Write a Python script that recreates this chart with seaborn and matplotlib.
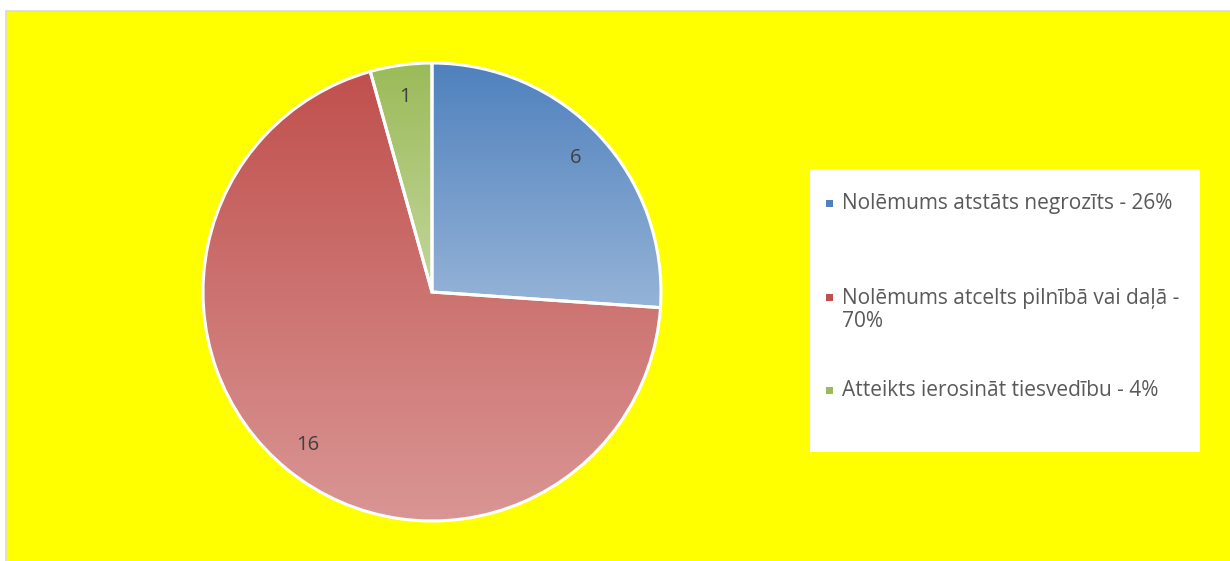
import numpy as np
import seaborn as sns
import matplotlib.pyplot as plt
from matplotlib.patches import Rectangle
from matplotlib.colors import to_rgb

# data
categories = [
    "Nolēmums atstāts negrozīts - 26%",
    "Nolēmums atcelts pilnībā vai daļā -\n70%",
    "Atteikts ierosināt tiesvedību - 4%",
]
counts = [6, 16, 1]
colors = ["#4F81BD", "#C0504D", "#9BBB59"]

sns.set_theme(style="white")
plt.rcParams["font.family"] = ["Open Sans", "DejaVu Sans"]

W, H = 1230, 561
fig = plt.figure(figsize=(W / 100, H / 100), dpi=100)
fig.patch.set_facecolor("white")

# yellow chart area with thin grey border on left/top
bg = Rectangle((6 / W, -0.01), 1.0, 1 - 11 / H + 0.01, transform=fig.transFigure,
               facecolor="#FFFF00", edgecolor="#D9D9D9", linewidth=1.2, zorder=-5)
fig.patches.append(bg)

# pie axes: center (432, 292) px, radius 229 px
cx, cy, r = 432, 292, 229
ax = fig.add_axes([(cx - r) / W, 1 - (cy + r) / H, 2 * r / W, 2 * r / H])
ax.set_facecolor("none")
ax.set_axis_off()
ax.set_zorder(2)

total = sum(counts)
wedges, texts, autotexts = ax.pie(
    counts,
    colors=colors,
    startangle=90,
    counterclock=False,
    radius=1,
    autopct=lambda p: f"{round(p * total / 100)}",
    pctdistance=0.86,
    wedgeprops={"edgecolor": "white", "linewidth": 2.2},
    textprops={"color": "#404040", "fontsize": 14.5},
)

# vertical gradient per slice: base colour at top, lighter towards the bottom
for w, c in zip(wedges, colors):
    ext = w.get_path().get_extents()
    base = np.array(to_rgb(c))
    t = np.linspace(0, 0.40, 256)[:, None]
    grad = base[None, :] * (1 - t) + t
    img = ax.imshow(grad[:, None, :], extent=[ext.x0, ext.x1, ext.y0, ext.y1],
                    origin="upper", aspect="auto", zorder=1, interpolation="bilinear")
    img.set_clip_path(w)
    w.set_facecolor("none")
    w.set_zorder(2)
for t in autotexts:
    t.set_zorder(3)

ax.set_xlim(-1, 1)
ax.set_ylim(-1, 1)

# legend box
lx0, ly0, lx1, ly1 = 810, 169, 1200, 452
fig.patches.append(Rectangle((lx0 / W, 1 - ly1 / H), (lx1 - lx0) / W, (ly1 - ly0) / H,
                             transform=fig.transFigure, facecolor="white",
                             edgecolor="none", zorder=1))
marker_y = [203, 297, 390]
text_y = [203, 310, 390]
for lab, c, my, ty in zip(categories, colors, marker_y, text_y):
    fig.patches.append(Rectangle((826 / W, 1 - (my + 3.5) / H), 7 / W, 7 / H,
                                 transform=fig.transFigure, facecolor=c,
                                 edgecolor="none", zorder=2))
    fig.text(842 / W, 1 - ty / H, lab, ha="left", va="center", fontsize=15,
             color="#595959", linespacing=1.12, zorder=3)

fig.savefig("out.png", dpi=100)
